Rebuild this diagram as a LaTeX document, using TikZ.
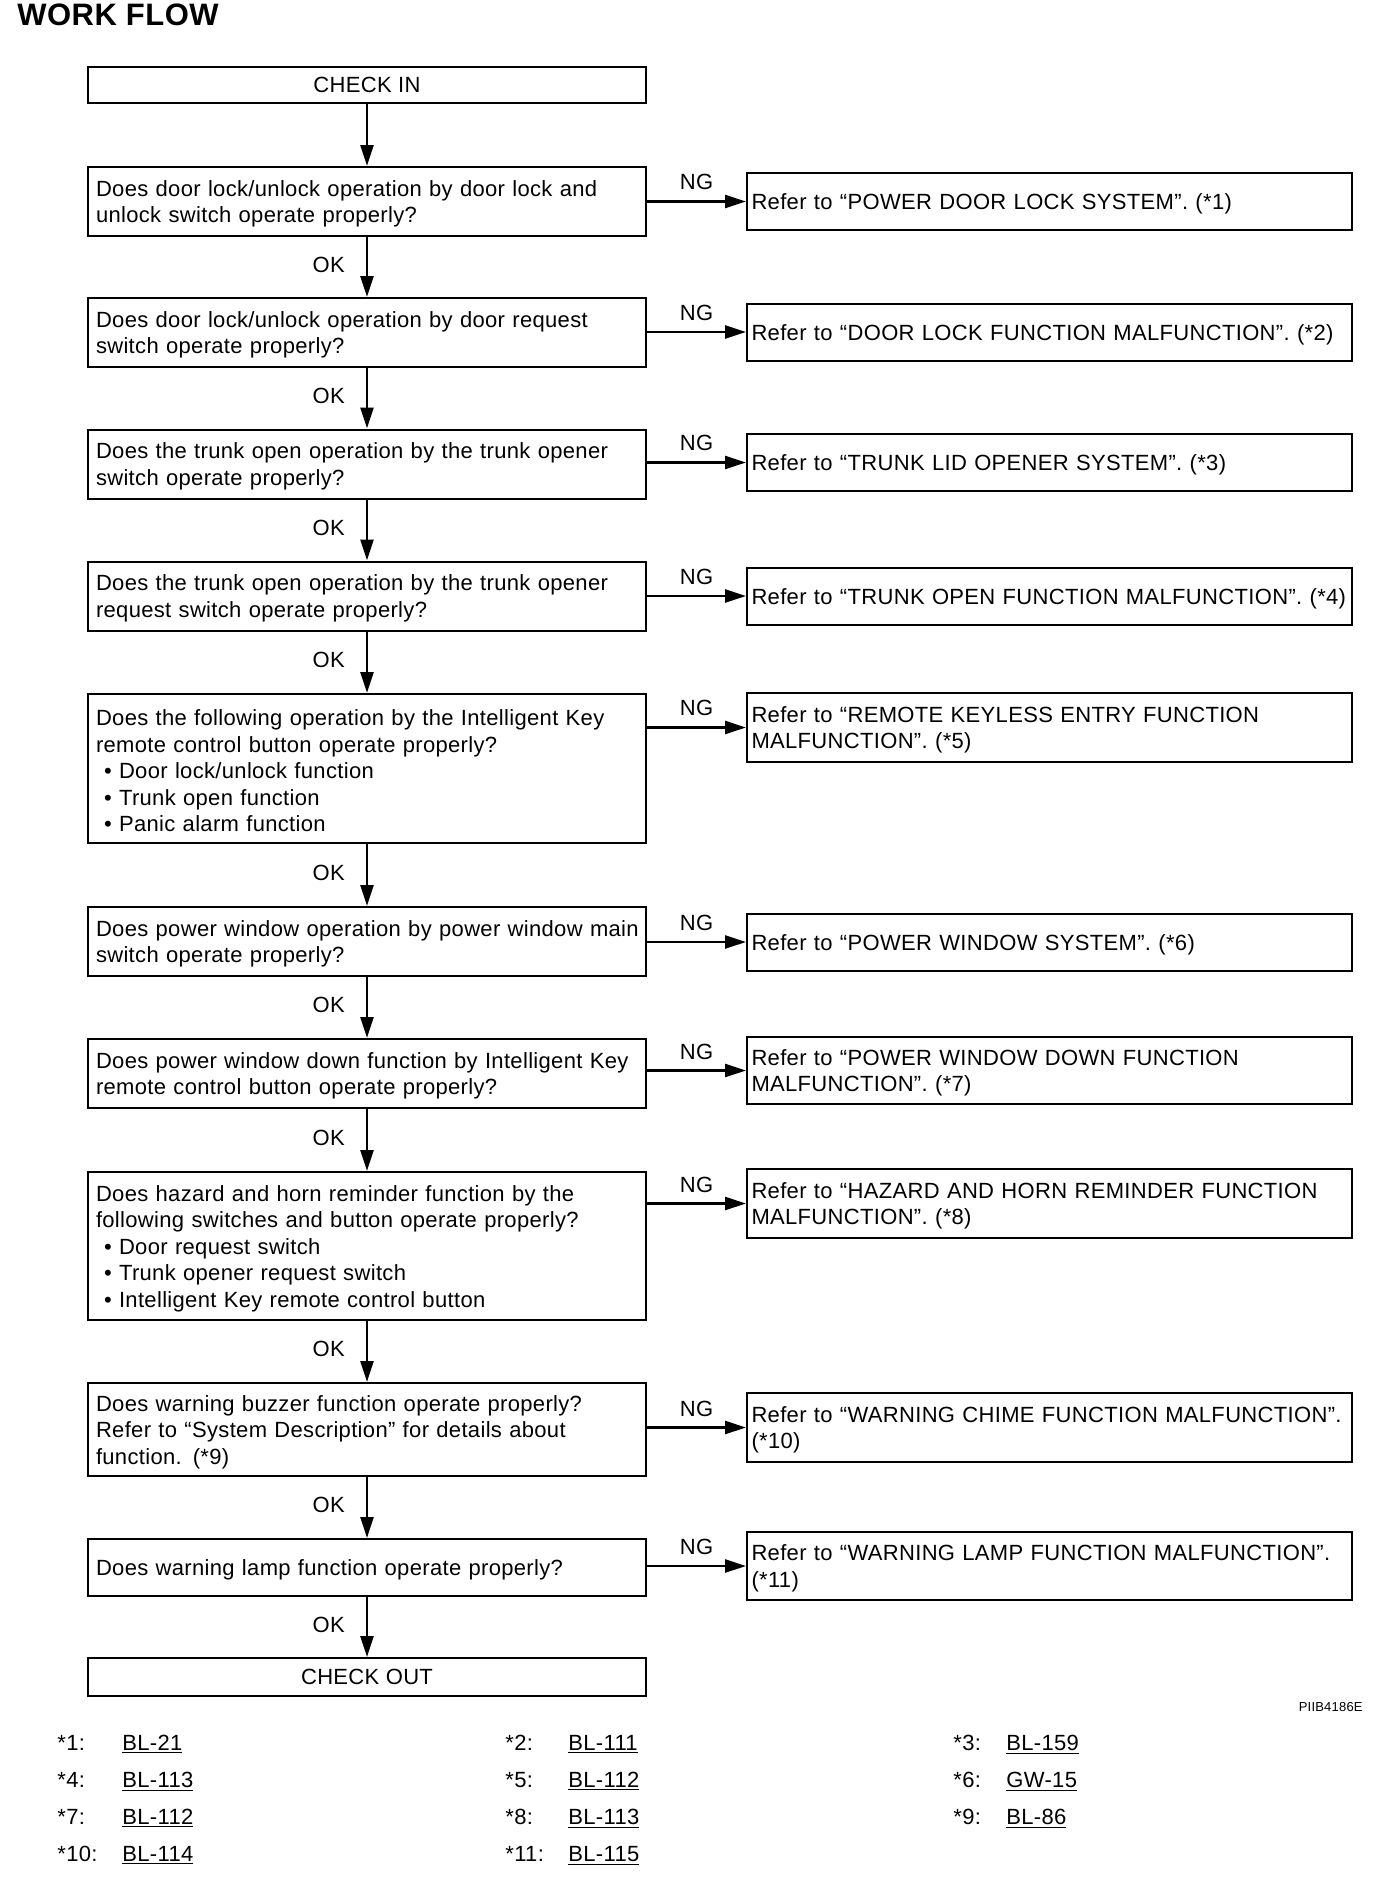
\documentclass[tikz,border=0pt]{standalone}
\usepackage{fontspec}
\setmainfont{Liberation Sans}[LetterSpace=1.5]
\usetikzlibrary{arrows.meta}

\begin{document}
\begin{tikzpicture}[x=0.5pt, y=-0.5pt,
		>={Triangle[length=10.5pt,width=6.5pt]},   %Pfeilspitzen
		font=\fontsize{11}{13.25}\selectfont,
		kasten/.style={draw, line width=1pt, inner ysep=0pt},
		ende/.style={kasten, minimum width=279pt, minimum height=18pt, align=center},
		frage/.style={kasten, text width=271pt, inner xsep=4pt, minimum height=34.5pt, align=left, execute at begin node={\rule{0pt}{10.4pt}}},
		verweis/.style={kasten, text width=298pt, inner xsep=2.25pt, minimum height=28.5pt, align=left, execute at begin node={\rule{0pt}{10.4pt}}},
		pfeil/.style={->, line width=1.3pt},
		marke/.style={inner sep=0pt}]
	\useasboundingbox (0,0) rectangle (1392,1886);
	%Ueberschrift
	\node[anchor=base west, inner sep=0pt, font=\bfseries\fontsize{15.5}{18}\selectfont] (titel) at (17,25) {WORK FLOW};
	%Kaesten links
	\node[ende] (checkin) at (367,85) {CHECK IN};
	\node[frage] (q1) at (367,201.5) {Does door lock/unlock operation by door lock and\\unlock switch operate properly?};
	\node[frage] (q2) at (367,332.5) {Does door lock/unlock operation by door request\\switch operate properly?};
	\node[frage] (q3) at (367,464) {Does the trunk open operation by the trunk opener\\switch operate properly?};
	\node[frage] (q4) at (367,596) {Does the trunk open operation by the trunk opener\\request switch operate properly?};
	\node[frage, minimum height=74.5pt] (q5) at (367,768.5) {Does the following operation by the Intelligent Key\\remote control button operate properly?\\\hspace*{4pt}• Door lock/unlock function\\\hspace*{4pt}• Trunk open function\\\hspace*{4pt}• Panic alarm function};
	\node[frage] (q6) at (367,941.5) {Does power window operation by power window main\\switch operate properly?};
	\node[frage] (q7) at (367,1073.5) {Does power window down function by Intelligent Key\\remote control button operate properly?};
	\node[frage, minimum height=74pt] (q8) at (367,1246) {Does hazard and horn reminder function by the\\following switches and button operate properly?\\\hspace*{4pt}• Door request switch\\\hspace*{4pt}• Trunk opener request switch\\\hspace*{4pt}• Intelligent Key remote control button};
	\node[frage, minimum height=46.5pt] (q9) at (367,1429.5) {Does warning buzzer function operate properly?\\Refer to “System Description” for details about\\function. (*9)};
	\node[frage, minimum height=28.5pt] (q10) at (367,1567.5) {Does warning lamp function operate properly?};
	\node[ende, minimum height=19pt] (checkout) at (367,1677) {CHECK OUT};
	%Kaesten rechts
	\node[verweis] (r1) at (1049.5,201.5) {Refer to “POWER DOOR LOCK SYSTEM”. (*1)};
	\node[verweis] (r2) at (1049.5,332) {Refer to “DOOR LOCK FUNCTION MALFUNCTION”. (*2)};
	\node[verweis] (r3) at (1049.5,462.5) {Refer to “TRUNK LID OPENER SYSTEM”. (*3)};
	\node[verweis] (r4) at (1049.5,596) {Refer to “TRUNK OPEN FUNCTION MALFUNCTION”. (*4)};
	\node[verweis, minimum height=34.5pt] (r5) at (1049.5,727.5) {Refer to “REMOTE KEYLESS ENTRY FUNCTION\\MALFUNCTION”. (*5)};
	\node[verweis] (r6) at (1049.5,942) {Refer to “POWER WINDOW SYSTEM”. (*6)};
	\node[verweis, minimum height=33.5pt] (r7) at (1049.5,1070.5) {Refer to “POWER WINDOW DOWN FUNCTION\\MALFUNCTION”. (*7)};
	\node[verweis, minimum height=34.5pt] (r8) at (1049.5,1203.5) {Refer to “HAZARD AND HORN REMINDER FUNCTION\\MALFUNCTION”. (*8)};
	\node[verweis, minimum height=34.5pt] (r9) at (1049.5,1427.5) {Refer to “WARNING CHIME FUNCTION MALFUNCTION”.\\(*10)};
	\node[verweis, minimum height=34pt] (r10) at (1049.5,1566) {Refer to “WARNING LAMP FUNCTION MALFUNCTION”.\\(*11)};
	%Pfeile OK
	\draw[pfeil] (checkin) -- (q1);
	\foreach \a/\b in {q1/q2,q2/q3,q3/q4,q4/q5,q5/q6,q6/q7,q7/q8,q8/q9,q9/q10,q10/checkout}
		\draw[pfeil] (\a) -- node[marke, pos=0.46, left=10.5pt] {OK} (\b);
	%Pfeile NG
	\foreach \i in {1,...,10}
		\draw[pfeil] (r\i.west -| q\i.east) -- node[marke, above=5pt] {NG} (r\i.west);
	%Bildnummer
	\node[anchor=base east, inner sep=0pt, font=\fontsize{6.5}{8}\selectfont] (bildnr) at (1363,1711) {PIIB4186E};
	%Verweise unten
	\foreach \nr/\ziel/\sx/\rx/\y in {1/BL-21/57/122/1750, 2/BL-111/505/568/1750, 3/BL-159/953/1006/1750,
			4/BL-113/57/122/1787, 5/BL-112/505/568/1787, 6/GW-15/953/1006/1787,
			7/BL-112/57/122/1824, 8/BL-113/505/568/1824, 9/BL-86/953/1006/1824,
			10/BL-114/57/122/1861, 11/BL-115/505/568/1861}
	{
		\node[marke, anchor=base west] (stern\nr) at (\sx,\y) {*\nr:};
		\node[marke, anchor=base west] (seite\nr) at (\rx,\y) {\underline{\ziel}};
	}
\end{tikzpicture}
\end{document}
